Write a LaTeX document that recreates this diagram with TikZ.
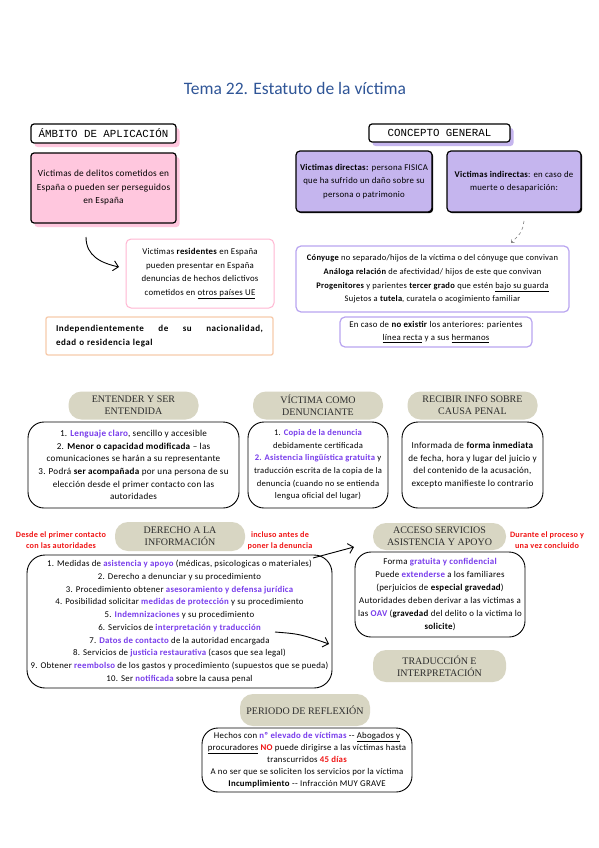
\documentclass[tikz,border=0pt]{standalone}
\usepackage{fontspec}
\setmainfont[LetterSpace=3]{Carlito}
\newfontfamily\titlef{Carlito}
\newfontfamily\monof{Liberation Mono}
\newfontfamily\seriff{Liberation Serif}
\newfontfamily\spacedf[LetterSpace=6]{Carlito}
\usetikzlibrary{arrows.meta,shadows}
\definecolor{pinkc}{RGB}{255,199,222}
\definecolor{pinkl}{RGB}{255,182,210}
\definecolor{peach}{RGB}{247,203,172}
\definecolor{purpc}{RGB}{197,181,238}
\definecolor{purpl}{RGB}{185,165,240}
\definecolor{purpt}{RGB}{120,60,235}
\definecolor{redt}{RGB}{240,20,20}
\definecolor{pillc}{RGB}{216,214,195}
\definecolor{pillt}{RGB}{45,45,45}
\definecolor{titlec}{RGB}{47,85,151}
\newcommand{\pu}[1]{\textcolor{purpt}{\bfseries #1}}
\newcommand{\rd}[1]{\textcolor{redt}{\bfseries #1}}
\begin{document}
\begin{tikzpicture}[x=1pt,y=-1pt,
  every node/.style={inner sep=0pt, outer sep=0pt},
  body/.style={font=\fontsize{8.8}{13.6}\selectfont, align=center},
  small/.style={font=\fontsize{9.1}{12.6}\selectfont, align=center},
  hdr/.style={draw, line width=1.2pt, rounded corners=3pt, font=\monof\fontsize{10.8}{12}\selectfont, minimum height=19pt},
  pill/.style={fill=pillc, rounded corners=13pt, font=\seriff\fontsize{10}{11.8}\selectfont, text=pillt, align=center, minimum width=130pt, minimum height=28pt},
  bigbox/.style={draw, line width=0.9pt, rounded corners=16pt, align=center},
  redlab/.style={text=redt, font=\bfseries\fontsize{8.2}{10.5}\selectfont, align=center},
  arr/.style={line width=0.9pt, -{Straight Barb[length=5pt,width=10pt]}},
  pinkshadow/.style={drop shadow={shadow xshift=3.5pt, shadow yshift=-4pt, fill=pinkc, opacity=1}},
  purpshadow/.style={drop shadow={shadow xshift=3.5pt, shadow yshift=-4pt, fill=purpc, opacity=1}},
  blackshadow/.style={drop shadow={shadow xshift=1.2pt, shadow yshift=-1.2pt, fill=black, opacity=1}},
]
\useasboundingbox (0,0) rectangle (599,848);
\fill[white] (0,0) rectangle (599,848);

\node[font=\titlef\fontsize{17.5}{20}\selectfont, text=titlec] (title) at (295,88) {Tema 22. Estatuto de la víctima};

% ---- Ambito
\node[hdr, fill=white, minimum width=145pt, pinkshadow] (amb) at (103.5,133.5) {ÁMBITO DE APLICACIÓN};
\node[draw, fill=pinkc, line width=1.2pt, rounded corners=3pt, minimum width=145pt, minimum height=70pt,
      font=\fontsize{9.3}{13.5}\selectfont, align=center, pinkshadow] (delitos) at (103.5,188)
  {Victimas de delitos cometidos en\\España o pueden ser perseguidos\\en España};
\node[draw=pinkl, line width=1pt, rounded corners=5pt, minimum width=148pt, minimum height=69pt, body] (resid) at (200,273.5)
  {Victimas \textbf{residentes} en España\\pueden presentar en España\\denuncias de hechos delictivos\\cometidos en \underline{otros países UE}};
\node[draw=peach, line width=1.3pt, rounded corners=2pt, minimum width=227pt, minimum height=38pt, text width=207pt, align=left,
      font=\spacedf\bfseries\fontsize{9}{13.5}\selectfont] (indep) at (159.5,336)
  {Independientemente\hfill de\hfill su\hfill nacionalidad,\\edad o residencia legal};
\coordinate (a1s) at (86,237);
\coordinate (a1e) at (119,267);
\draw[arr] (a1s) .. controls (86,256) and (101,263) .. (a1e);

% ---- Concepto
\node[hdr, fill=white, minimum width=141pt, minimum height=18pt, purpshadow] (conc) at (439.5,133) {CONCEPTO GENERAL};
\node[draw, fill=purpc, line width=1.2pt, rounded corners=4pt, minimum width=136pt, minimum height=61pt, body, blackshadow] (direc) at (364,181.5)
  {\textbf{Victimas directas:} persona FISICA\\que ha sufrido un daño sobre su\\persona o patrimonio};
\node[draw, fill=purpc, line width=1.2pt, rounded corners=4pt, minimum width=134pt, minimum height=61pt, body, blackshadow] (indir) at (514,181.5)
  {\textbf{Victimas indirectas}: en caso de\\muerte o desaparición:};
\coordinate (d1) at (524,221);
\coordinate (d2) at (511,243);
\draw[gray, dashed, line width=0.6pt, -{Straight Barb[length=2.5pt,width=4pt]}] (d1) .. controls (522,232) .. (d2);
\node[draw=purpl, line width=1.2pt, rounded corners=5pt, minimum width=273pt, minimum height=66pt, body, font=\fontsize{8.5}{13.6}\selectfont] (cony) at (432.5,279)
  {\textbf{Cónyuge} no separado/hijos de la víctima o del cónyuge que convivan\\
   \textbf{Análoga relación} de afectividad/ hijos de este que convivan\\
   \textbf{Progenitores} y parientes \textbf{tercer grado} que estén \underline{bajo su guarda}\\
   Sujetos a \textbf{tutela}, curatela o acogimiento familiar};
\node[draw=purpl, line width=1.2pt, rounded corners=5pt, minimum width=192pt, minimum height=30pt,
      font=\fontsize{8.8}{12.5}\selectfont, align=center] (noex) at (436,332)
  {En caso de \textbf{no existir} los anteriores: parientes\\\underline{línea recta} y a sus \underline{hermanos}};

% ---- Section 2
\node[bigbox, minimum width=211pt, minimum height=86pt, small] (b1) at (133.5,465)
  {1. \pu{Lenguaje claro}, sencillo y accesible\\
   2. \textbf{Menor o capacidad modificada} – las\\
   comunicaciones se harán a su representante\\
   3. Podrá \textbf{ser acompañada} por una persona de su\\
   elección desde el primer contacto con las\\
   autoridades};
\node[pill] (p1) at (133.5,405.5) {ENTENDER Y SER\\ENTENDIDA};
\node[bigbox, minimum width=140pt, minimum height=86pt, small, font=\fontsize{8.6}{12.6}\selectfont] (b2) at (318,465)
  {1. \pu{Copia de la denuncia}\\
   debidamente certificada\\
   \pu{2. Asistencia lingüística gratuita} y\\
   traducción escrita de la copia de la\\
   denuncia (cuando no se entienda\\
   lengua oficial del lugar)};
\node[pill] (p2) at (318,405.5) {VÍCTIMA COMO\\DENUNCIANTE};
\node[bigbox, minimum width=141pt, minimum height=86pt, small] (b3) at (472.5,465)
  {Informada de \textbf{forma inmediata}\\
   de fecha, hora y lugar del juicio y\\
   del contenido de la acusación,\\
   excepto manifieste lo contrario};
\node[pill] (p3) at (472.5,405.5) {RECIBIR INFO SOBRE\\CAUSA PENAL};

% ---- Section 3
\node[bigbox, rounded corners=18pt, minimum width=305pt, minimum height=133pt, font=\fontsize{8.8}{12.75}\selectfont] (b4) at (179.5,621.5)
  {1. Medidas de \pu{asistencia y apoyo} (médicas, psicologicas o materiales)\\
   2. Derecho a denunciar y su procedimiento\\
   3. Procedimiento obtener \pu{asesoramiento y defensa jurídica}\\
   4. Posibilidad solicitar \pu{medidas de protección} y su procedimiento\\
   5. \pu{Indemnizaciones} y su procedimiento\\
   6. Servicios de \pu{interpretación y traducción}\\
   7. \pu{Datos de contacto} de la autoridad encargada\\
   8. Servicios de \pu{justicia restaurativa} (casos que sea legal)\\
   9. Obtener \pu{reembolso} de los gastos y procedimiento (supuestos que se pueda)\\
   10. Ser \pu{notificada} sobre la causa penal};
\node[pill, minimum height=29pt] (p4) at (180,536.5) {DERECHO A LA\\INFORMACIÓN};
\node[redlab] (r1) at (61,540) {Desde el primer contacto\\con las autoridades};
\node[redlab] (r2) at (280,541) {incluso antes de\\poner la denuncia};

\node[bigbox, minimum width=170pt, minimum height=85pt, font=\fontsize{8.9}{13}\selectfont] (b5) at (440,594.5)
  {Forma \pu{gratuita y confidencial}\\
   Puede \pu{extenderse} a los familiares\\
   (perjuicios de \textbf{especial gravedad})\\
   Autoridades deben derivar a las victimas a\\
   las \pu{OAV} (\textbf{gravedad} del delito o la victima lo\\
   \textbf{solicite})};
\node[pill, minimum width=133pt, minimum height=27pt] (p5) at (439.5,536.5) {ACCESO SERVICIOS\\ASISTENCIA Y APOYO};
\node[redlab] (r3) at (547,540) {Durante el proceso y\\una vez concluido};
\node[pill, minimum width=133pt, minimum height=32pt] (p6) at (439.5,666) {TRADUCCIÓN E\\INTERPRETACIÓN};

\coordinate (a2s) at (313,558);
\coordinate (a2e) at (354,547);
\draw[arr] (a2s) -- (a2e);
\coordinate (a3s) at (275,632);
\coordinate (a3e) at (329,644);
\draw[arr] (a3s) .. controls (300,634) .. (a3e);

% ---- Section 4
\node[bigbox, minimum width=210pt, minimum height=64pt, font=\fontsize{8.8}{12.2}\selectfont] (b6) at (307,760)
  {Hechos con \pu{nº elevado de víctimas} -{}- \underline{Abogados y}\\
   \underline{procuradores} \rd{NO} puede dirigirse a las víctimas hasta\\
   transcurridos \rd{45 días}\\
   A no ser que se soliciten los servicios por la víctima\\
   \textbf{Incumplimiento} -{}- Infracción MUY GRAVE};
\node[pill, minimum height=32pt] (p7) at (305,710) {PERIODO DE REFLEXIÓN};
\end{tikzpicture}
\end{document}
